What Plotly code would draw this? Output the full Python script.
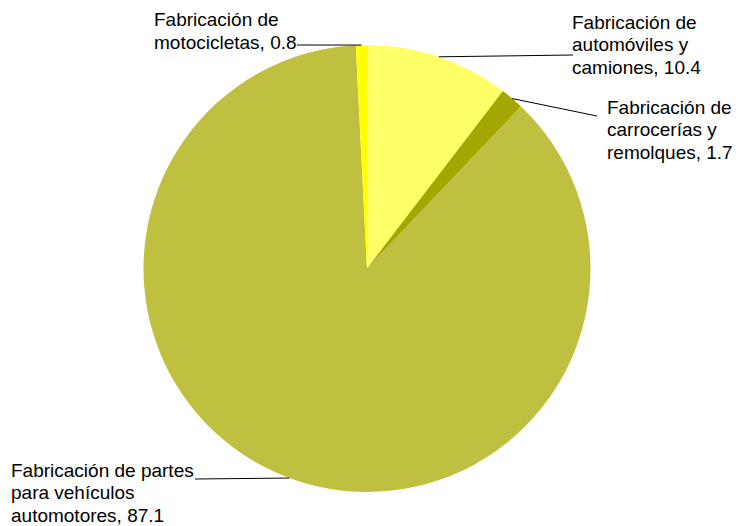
import math
import plotly.graph_objects as go

# ---- data ----
categories = [
    "Fabricación de automóviles y camiones",
    "Fabricación de carrocerías y remolques",
    "Fabricación de partes para vehículos automotores",
    "Fabricación de motocicletas",
]
label_lines = [
    ["Fabricación de", "automóviles y", "camiones"],
    ["Fabricación de", "carrocerías y", "remolques"],
    ["Fabricación de partes", "para vehículos", "automotores"],
    ["Fabricación de", "motocicletas"],
]
values = [10.4, 1.7, 87.1, 0.8]
colors = ["#FFFF66", "#A6A600", "#C0C040", "#FFFF00"]

# ---- layout constants (pixels) ----
W, H = 736, 526
CX, CY, R = 367.0, 268.5, 223.5
FONT = dict(family="Liberation Sans, Arial, sans-serif", size=19, color="#000000")
LINE_GAP = 22.7

# first-line centre positions (left x, centre y) and leader-line end points (pixels)
label_pos = [(570, 22), (605, 107), (9, 470), (152, 20)]
leader_end = [(573, 55), (597, 116), (195, 479), (297, 45)]

fig = go.Figure(go.Pie(
    labels=categories,
    values=values,
    marker=dict(colors=colors, line=dict(width=0)),
    sort=False,
    direction="clockwise",
    rotation=0,
    textinfo="none",
    hoverinfo="label+value",
    showlegend=False,
    domain=dict(x=[(CX - R) / W, (CX + R) / W], y=[(H - CY - R) / H, (H - CY + R) / H]),
))

total = sum(values)
cum = 0.0
shapes = []
annotations = []
for i, v in enumerate(values):
    mid = (cum + v / 2) / total * 2 * math.pi
    cum += v
    ex = CX + R * math.sin(mid)
    ey = CY - R * math.cos(mid)
    lx, ly = leader_end[i]
    shapes.append(dict(type="line", xref="paper", yref="paper",
                       x0=ex / W, y0=1 - ey / H, x1=lx / W, y1=1 - ly / H,
                       line=dict(color="#000000", width=1)))
    lines = list(label_lines[i])
    lines[-1] = f"{lines[-1]}, {v}"
    px, py = label_pos[i]
    for k, txt in enumerate(lines):
        annotations.append(dict(xref="paper", yref="paper",
                                x=px / W, y=1 - (py + k * LINE_GAP) / H,
                                xanchor="left", yanchor="middle", align="left",
                                showarrow=False, text=txt, font=FONT))

fig.update_layout(
    width=W, height=H,
    margin=dict(l=0, r=0, t=0, b=0),
    paper_bgcolor="white", plot_bgcolor="white",
    shapes=shapes, annotations=annotations,
)
fig.write_html("out.html", config={"displayModeBar": False},
               post_script="document.body.style.margin='0';")
